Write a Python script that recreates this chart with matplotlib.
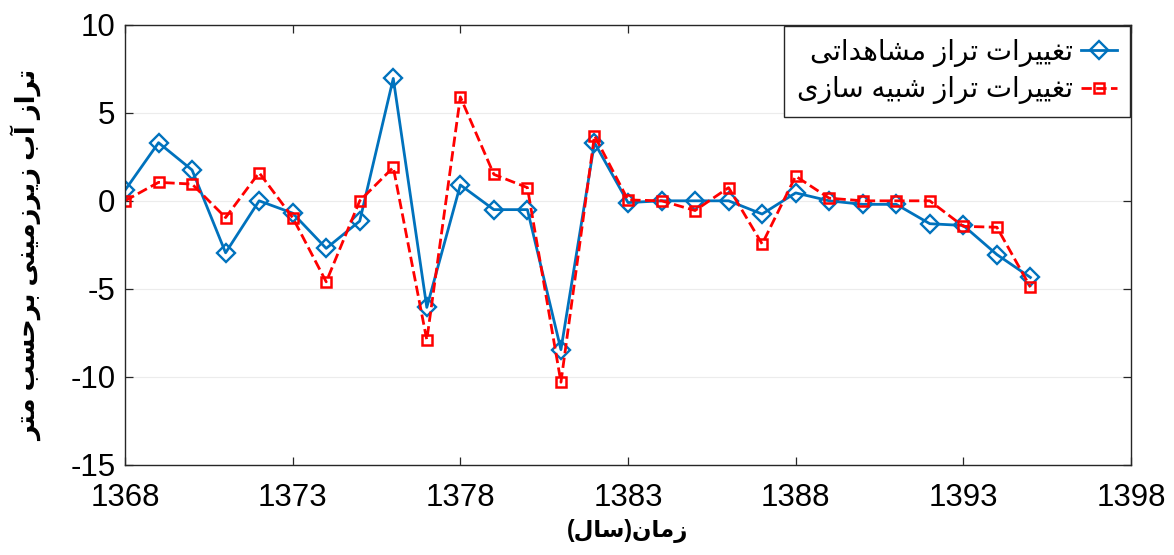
# IMPORT LIBRARIES
import matplotlib
matplotlib.use('Agg')  # No display
import matplotlib.pyplot as plt

# DATA - groundwater level changes (m) per year
years = [1368, 1369, 1370, 1371, 1372, 1373, 1374, 1375, 1376, 1377,
         1378, 1379, 1380, 1381, 1382, 1383, 1384, 1385, 1386, 1387,
         1388, 1389, 1390, 1391, 1392, 1393, 1394, 1395]
observed = [0.6, 3.3, 1.75, -2.95, 0.0, -0.7, -2.7, -1.15, 6.95, -6.05,
            0.9, -0.5, -0.5, -8.45, 3.3, -0.1, 0.0, 0.0, 0.0, -0.75,
            0.45, 0.0, -0.2, -0.2, -1.3, -1.4, -3.05, -4.35]
simulated = [0.0, 1.05, 0.95, -0.95, 1.6, -0.95, -4.6, 0.0, 1.9, -7.9,
             5.9, 1.5, 0.75, -10.3, 3.7, 0.05, 0.0, -0.55, 0.75, -2.45,
             1.4, 0.15, 0.0, 0.0, 0.0, -1.45, -1.5, -4.9]
x_ticks = [1368, 1373, 1378, 1383, 1388, 1393, 1398]
y_ticks = [-15, -10, -5, 0, 5, 10]

# TEXTS (Persian)
label_observed = 'تغییرات تراز مشاهداتی'
label_simulated = 'تغییرات تراز شبیه سازی'
x_title = 'زمان(سال)'
y_title = 'تراز آب زیرزمینی برحسب متر'


# SIMPLE ARABIC SCRIPT SHAPING (matplotlib does not join letters or do RTL)
# forms: isolated, final, initial, medial
forms = {
    'ا': '\uFE8D\uFE8E', 'آ': '\uFE81\uFE82', 'د': '\uFEA9\uFEAA',
    'ر': '\uFEAD\uFEAE', 'ز': '\uFEAF\uFEB0',
    'ب': '\uFE8F\uFE90\uFE91\uFE92', 'ت': '\uFE95\uFE96\uFE97\uFE98',
    'ح': '\uFEA1\uFEA2\uFEA3\uFEA4', 'س': '\uFEB1\uFEB2\uFEB3\uFEB4',
    'ش': '\uFEB5\uFEB6\uFEB7\uFEB8', 'غ': '\uFECD\uFECE\uFECF\uFED0',
    'ل': '\uFEDD\uFEDE\uFEDF\uFEE0', 'م': '\uFEE1\uFEE2\uFEE3\uFEE4',
    'ن': '\uFEE5\uFEE6\uFEE7\uFEE8', 'ه': '\uFEE9\uFEEA\uFEEB\uFEEC',
    'ی': '\uFBFC\uFBFD\uFBFE\uFBFF',
}

def shape(text):
    out = []
    for i, c in enumerate(text):
        if c not in forms:
            out.append(c)
            continue
        f = forms[c]
        prev_c = text[i - 1] if i > 0 else ''
        next_c = text[i + 1] if i < len(text) - 1 else ''
        joins_prev = prev_c in forms and len(forms[prev_c]) == 4
        joins_next = next_c in forms and len(f) == 4
        if joins_prev and joins_next:
            out.append(f[3])
        elif joins_prev:
            out.append(f[1])
        elif joins_next:
            out.append(f[2])
        else:
            out.append(f[0])
    visual = ''.join(reversed(out))
    # mirror brackets for right-to-left display
    return visual.translate(str.maketrans('()', ')('))


# STYLE
plt.rcParams['font.family'] = ['Liberation Sans', 'DejaVu Sans']
plt.rcParams['axes.unicode_minus'] = False

fig = plt.figure(figsize=(11.74, 5.55), dpi=100)
ax = fig.add_axes([125 / 1174, 1 - 465 / 555, (1131 - 125) / 1174, (465 - 24.7) / 555])

# PLOT THE TWO SERIES
ax.plot(years, observed, color='#0072BD', linestyle='-', linewidth=2.0,
        marker='D', markersize=9, markerfacecolor='none', markeredgewidth=1.7,
        label=shape(label_observed))
ax.plot(years, simulated, color='#FF0000', linestyle='--', linewidth=2.0,
        marker='s', markersize=7.5, markerfacecolor='none', markeredgewidth=1.8,
        label=shape(label_simulated))

# AXES
ax.set_xlim(1368, 1398)
ax.set_ylim(-15, 10)
ax.set_xticks(x_ticks)
ax.set_yticks(y_ticks)
ax.tick_params(direction='in', length=6, width=0.9, labelsize=22.5,
               top=True, right=True, color='#262626')
ax.tick_params(axis='x', pad=13)
ax.tick_params(axis='y', pad=7)
for spine in ax.spines.values():
    spine.set_color('#262626')
    spine.set_linewidth(1.0)
ax.yaxis.grid(True, color='#ececec', linewidth=0.8)
ax.set_axisbelow(True)

ax.set_xlabel(shape(x_title), fontsize=16.5, fontweight='bold', labelpad=4)
ax.set_ylabel(shape(y_title), fontsize=18.5, fontweight='bold')
ax.yaxis.set_label_coords(-0.082, 0.475)

# LEGEND (handles on the right, as in right-to-left layout)
leg = ax.legend(loc='upper right', markerfirst=False, fontsize=20,
                handlelength=1.3, handletextpad=0.3, fancybox=False,
                framealpha=1, edgecolor='#262626', borderaxespad=0.05,
                labelspacing=0.35, borderpad=0.45)
leg.get_frame().set_linewidth(1.0)

plt.savefig('out.png', dpi=100)
